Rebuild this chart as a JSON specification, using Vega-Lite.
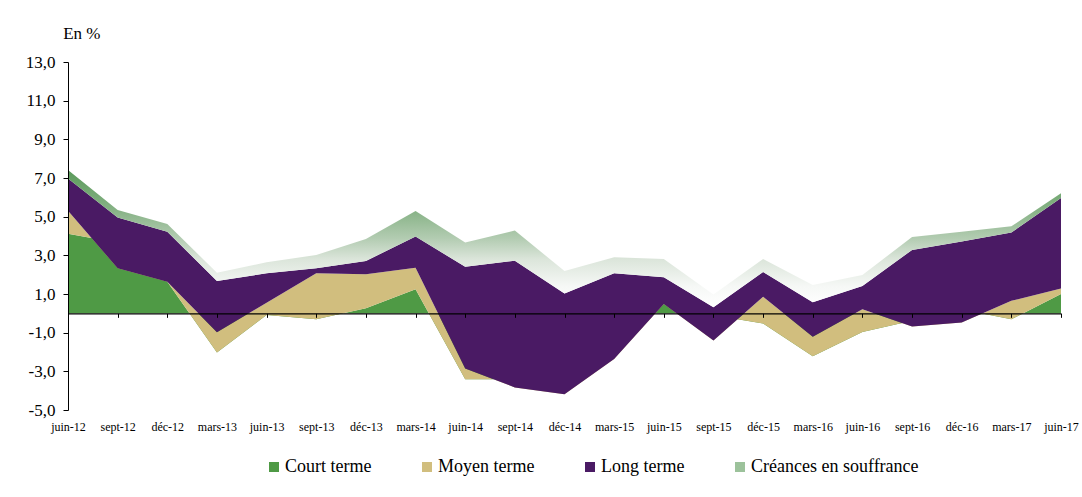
{
  "$schema": "https://vega.github.io/schema/vega-lite/v6.json",
  "width": 993,
  "height": 348,
  "autosize": "none",
  "padding": {"left": 68, "top": 62, "right": 21, "bottom": 87},
  "background": "white",
  "config": {"view": {"stroke": null}},
  "data": {
    "values": [
      {"date": "juin-12", "court": 4.12, "moyen": 1.19, "long": 1.67, "creances": 0.43},
      {"date": "sept-12", "court": 3.65, "moyen": -1.32, "long": 2.63, "creances": 0.38},
      {"date": "déc-12", "court": 1.64, "moyen": 0.0, "long": 2.58, "creances": 0.40},
      {"date": "mars-13", "court": -2.03, "moyen": 1.05, "long": 2.65, "creances": 0.43},
      {"date": "juin-13", "court": -0.09, "moyen": 0.64, "long": 1.52, "creances": 0.57},
      {"date": "sept-13", "court": -0.31, "moyen": 2.38, "long": 0.26, "creances": 0.69},
      {"date": "déc-13", "court": 0.26, "moyen": 1.76, "long": 0.69, "creances": 1.13},
      {"date": "mars-14", "court": 1.24, "moyen": 1.12, "long": 1.61, "creances": 1.32},
      {"date": "juin-14", "court": -3.41, "moyen": 0.56, "long": 5.26, "creances": 1.26},
      {"date": "sept-14", "court": -3.41, "moyen": -0.42, "long": 6.55, "creances": 1.56},
      {"date": "déc-14", "court": -2.50, "moyen": -1.69, "long": 5.22, "creances": 1.16},
      {"date": "mars-15", "court": -1.00, "moyen": -1.36, "long": 4.43, "creances": 0.83},
      {"date": "juin-15", "court": 0.48, "moyen": 0.0, "long": 1.38, "creances": 0.95},
      {"date": "sept-15", "court": -0.10, "moyen": -1.31, "long": 1.73, "creances": 0.65},
      {"date": "déc-15", "court": -0.52, "moyen": 1.38, "long": 1.28, "creances": 0.67},
      {"date": "mars-16", "court": -2.22, "moyen": 1.01, "long": 1.78, "creances": 0.90},
      {"date": "juin-16", "court": -0.96, "moyen": 1.17, "long": 1.20, "creances": 0.57},
      {"date": "sept-16", "court": -0.38, "moyen": -0.30, "long": 3.96, "creances": 0.67},
      {"date": "déc-16", "court": 0.20, "moyen": -0.67, "long": 4.18, "creances": 0.51},
      {"date": "mars-17", "court": -0.31, "moyen": 0.96, "long": 3.53, "creances": 0.32},
      {"date": "juin-17", "court": 1.00, "moyen": 0.28, "long": 4.68, "creances": 0.25}
    ]
  },
  "transform": [
    {"fold": ["court", "moyen", "long", "creances"], "as": ["cle", "valeur"]},
    {"lookup": "cle", "from": {"data": {"values": [
      {"cle": "court", "serie": "Court terme", "ordre": 1},
      {"cle": "moyen", "serie": "Moyen terme", "ordre": 2},
      {"cle": "long", "serie": "Long terme", "ordre": 3},
      {"cle": "creances", "serie": "Créances en souffrance", "ordre": 4}
    ]}, "key": "cle", "fields": ["serie", "ordre"]}},
    {"window": [{"op": "sum", "field": "valeur", "as": "haut"}], "groupby": ["date"], "sort": [{"field": "ordre", "order": "ascending"}], "frame": [null, 0]},
    {"window": [{"op": "lag", "field": "haut", "as": "bas"}], "groupby": ["date"], "sort": [{"field": "ordre", "order": "ascending"}]}
  ],
  "encoding": {
    "x": {
      "field": "date", "type": "ordinal",
      "scale": {"type": "point", "padding": 0, "domain": ["juin-12","sept-12","déc-12","mars-13","juin-13","sept-13","déc-13","mars-14","juin-14","sept-14","déc-14","mars-15","juin-15","sept-15","déc-15","mars-16","juin-16","sept-16","déc-16","mars-17","juin-17"]},
      "axis": {"orient": "bottom", "offset": -96.67, "title": null, "grid": false, "domain": true, "domainColor": "#000000", "domainWidth": 1.2, "ticks": true, "tickColor": "#000000", "tickSize": 4, "labelAngle": 0, "labelPadding": 104, "labelFont": "Liberation Serif", "labelFontSize": 12, "labelColor": "#000000", "labelOverlap": false, "zindex": 1}
    },
    "y": {
      "field": "haut", "type": "quantitative", "stack": null,
      "scale": {"domain": [-5, 13], "nice": false, "zero": false},
      "axis": {"values": [-5, -3, -1, 1, 3, 5, 7, 9, 11, 13], "labelExpr": "replace(replace(format(datum.value, '.1f'), '.', ','), '\u2212', '-')", "title": "En %", "titleAngle": 0, "titleX": -5.3, "titleY": -23.7, "titleAlign": "left", "titleBaseline": "alphabetic", "titleFont": "Liberation Serif", "titleFontSize": 17, "titleFontWeight": "normal", "titleColor": "#000000", "labelFont": "Liberation Serif", "labelFontSize": 17, "labelColor": "#000000", "labelPadding": 8, "tickSize": 5, "tickColor": "#000000", "domainColor": "#000000", "grid": false, "zindex": 1}
    },
    "color": {
      "field": "serie", "type": "nominal",
      "scale": {
        "domain": ["Court terme", "Moyen terme", "Long terme", "Créances en souffrance"],
        "range": ["#4f9a45", "#d1be7e", "#4a1a64", "#9cc29b"]
      },
      "legend": {"orient": "none", "legendX": 197, "legendY": 396, "direction": "horizontal", "title": null, "symbolType": "square", "symbolSize": 100, "symbolStrokeWidth": 0, "symbolOpacity": 1, "labelFont": "Liberation Serif", "labelFontSize": 18, "labelColor": "#000000", "labelOffset": 2, "columnPadding": 46, "padding": 0, "labelLimit": 400,
        "encode": {"symbols": {"update": {"fill": {"signal": "datum.value === 'Créances en souffrance' ? {gradient: 'linear', x1: 0, y1: 0, x2: 0, y2: 1, stops: [{offset: 0, color: '#5e9e5e'}, {offset: 1, color: '#eef4ee'}]} : scale('color', datum.value)"}}}}}
    }
  },
  "layer": [
    {"transform": [{"filter": {"field": "cle", "equal": "court"}}], "mark": {"type": "area", "opacity": 1, "interpolate": "linear"}, "encoding": {"y2": {"datum": 0}}},
    {"transform": [{"filter": {"field": "cle", "equal": "moyen"}}], "mark": {"type": "area", "opacity": 1, "interpolate": "linear"}, "encoding": {"y2": {"field": "bas"}}},
    {"transform": [{"filter": {"field": "cle", "equal": "long"}}], "mark": {"type": "area", "opacity": 1, "interpolate": "linear"}, "encoding": {"y2": {"field": "bas"}}},
    {"transform": [{"filter": {"field": "cle", "equal": "creances"}}], "mark": {"type": "area", "opacity": 1, "interpolate": "linear"}, "encoding": {"y2": {"field": "bas"}, "fill": {"value": {"gradient": "linear", "x1": 0, "y1": 0, "x2": 0, "y2": 1, "stops": [
          {"offset": 0, "color": "#5a9a5a"},
          {"offset": 0.3, "color": "#88b387"},
          {"offset": 0.5, "color": "#b3ccb2"},
          {"offset": 0.65, "color": "#dbe5da"},
          {"offset": 0.85, "color": "#f6f8f6"},
          {"offset": 1, "color": "#ffffff"}
        ]}}}}
  ]
}
